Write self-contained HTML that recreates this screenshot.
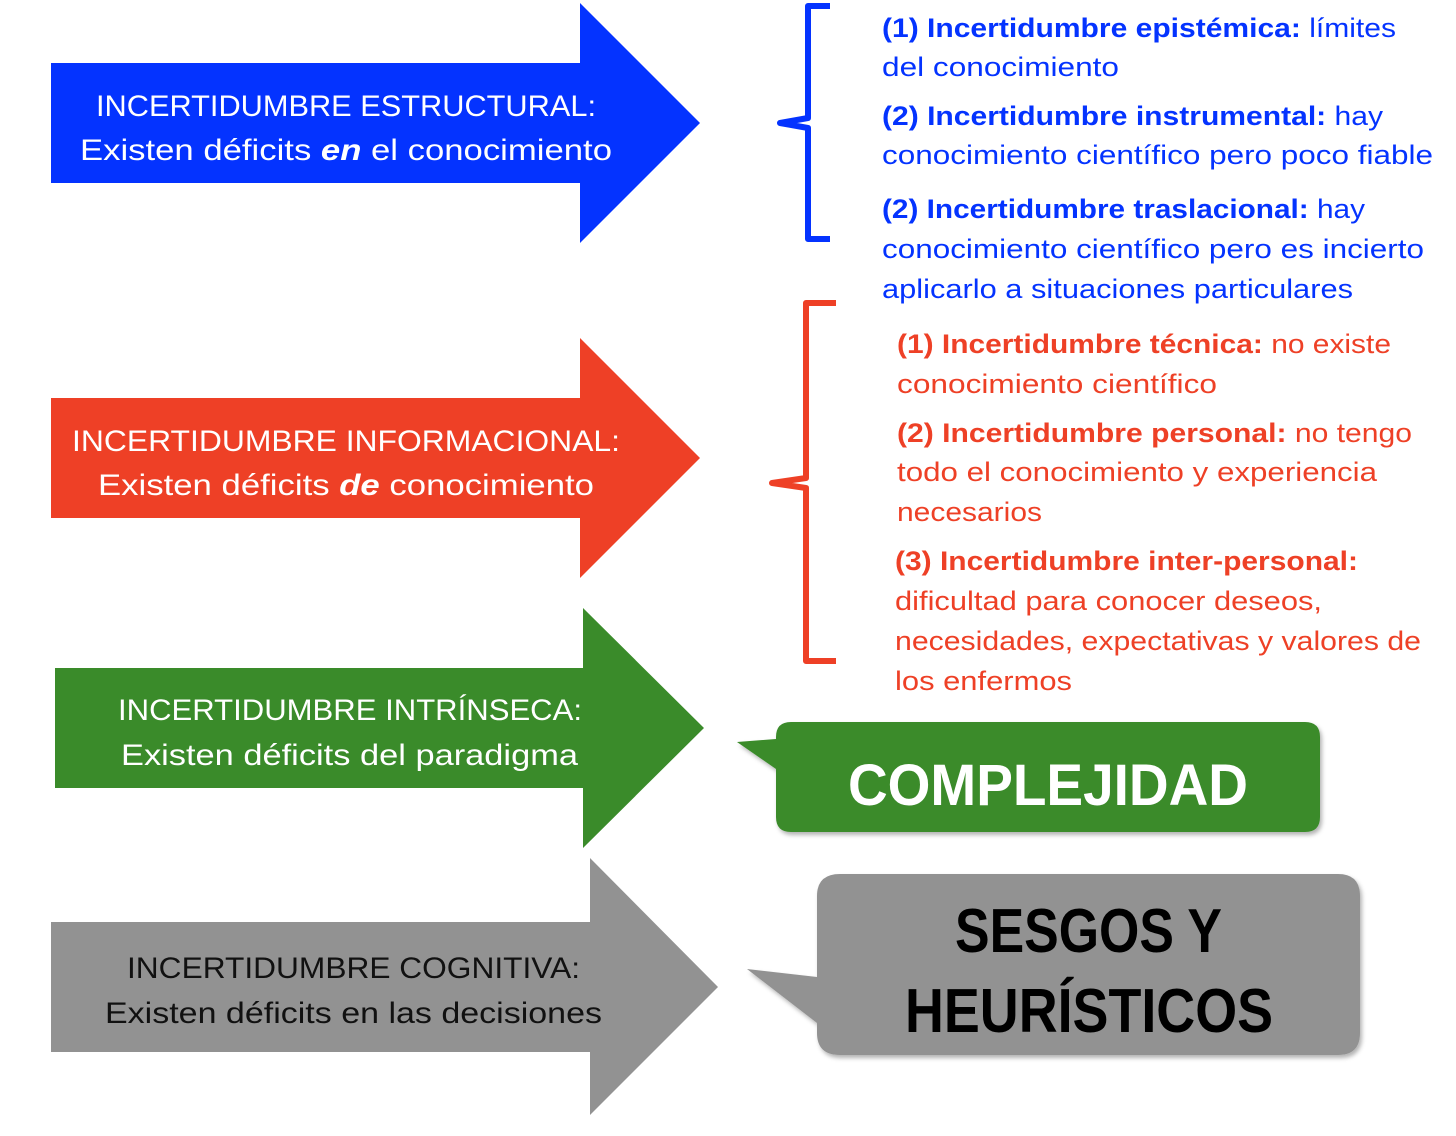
<!DOCTYPE html>
<html><head><meta charset="utf-8"><style>html,body{margin:0;padding:0;background:#fff}svg{display:block}</style></head>
<body>
<svg width="1456" height="1136" viewBox="0 0 1456 1136" xmlns="http://www.w3.org/2000/svg" font-family="'Liberation Sans', sans-serif">
<defs><filter id="sh" x="-5%" y="-5%" width="110%" height="115%"><feDropShadow dx="2" dy="3" stdDeviation="2" flood-color="#000" flood-opacity="0.3"/></filter></defs>
<!-- arrows -->
<polygon points="51,63 580,63 580,3 700,123 580,243 580,183 51,183" fill="#0433ff"/>
<polygon points="51,398 580,398 580,338 700,458 580,578 580,518 51,518" fill="#ee4026"/>
<polygon points="55,668 583,668 583,608 704,728 583,848 583,788 55,788" fill="#3a8b2a"/>
<polygon points="51,922 590,922 590,858 718,987 590,1115 590,1052 51,1052" fill="#929292"/>
<g font-size="30" fill="#fff">
<text x="96" y="116" textLength="500" lengthAdjust="spacingAndGlyphs">INCERTIDUMBRE ESTRUCTURAL:</text>
<text x="80" y="160" textLength="532" lengthAdjust="spacingAndGlyphs">Existen déficits <tspan font-weight="bold" font-style="italic">en</tspan> el conocimiento</text>
<text x="72" y="451" textLength="548" lengthAdjust="spacingAndGlyphs">INCERTIDUMBRE INFORMACIONAL:</text>
<text x="98" y="495" textLength="496" lengthAdjust="spacingAndGlyphs">Existen déficits <tspan font-weight="bold" font-style="italic">de</tspan> conocimiento</text>
<text x="118" y="720" textLength="464" lengthAdjust="spacingAndGlyphs">INCERTIDUMBRE INTRÍNSECA:</text>
<text x="121" y="765" textLength="457" lengthAdjust="spacingAndGlyphs">Existen déficits del paradigma</text>
</g>
<g font-size="30" fill="#111">
<text x="127" y="978" textLength="453" lengthAdjust="spacingAndGlyphs">INCERTIDUMBRE COGNITIVA:</text>
<text x="105" y="1023" textLength="497" lengthAdjust="spacingAndGlyphs">Existen déficits en las decisiones</text>
</g>
<!-- braces -->
<path d="M830,6 L808,6 L808,118 L780,123 L808,128 L808,239 L830,239" fill="none" stroke="#0433ff" stroke-width="6" stroke-linejoin="round"/>
<path d="M836,303 L806,303 L806,478 L772,483 L806,488 L806,661 L836,661" fill="none" stroke="#ee4026" stroke-width="6" stroke-linejoin="round"/>
<!-- blue text -->
<g font-size="27" fill="#0433ff">
<text x="882" y="37" textLength="514" lengthAdjust="spacingAndGlyphs"><tspan font-weight="bold">(1) Incertidumbre epistémica:</tspan> límites</text>
<text x="882" y="76" textLength="237" lengthAdjust="spacingAndGlyphs">del conocimiento</text>
<text x="882" y="125" textLength="501" lengthAdjust="spacingAndGlyphs"><tspan font-weight="bold">(2) Incertidumbre instrumental:</tspan> hay</text>
<text x="882" y="164" textLength="551" lengthAdjust="spacingAndGlyphs">conocimiento científico pero poco fiable</text>
<text x="882" y="218" textLength="483" lengthAdjust="spacingAndGlyphs"><tspan font-weight="bold">(2) Incertidumbre traslacional:</tspan> hay</text>
<text x="882" y="258" textLength="542" lengthAdjust="spacingAndGlyphs">conocimiento científico pero es incierto</text>
<text x="882" y="298" textLength="471" lengthAdjust="spacingAndGlyphs">aplicarlo a situaciones particulares</text>
</g>
<g font-size="27" fill="#ee4026">
<text x="897" y="353" textLength="494" lengthAdjust="spacingAndGlyphs"><tspan font-weight="bold">(1) Incertidumbre técnica:</tspan> no existe</text>
<text x="897" y="393" textLength="320" lengthAdjust="spacingAndGlyphs">conocimiento científico</text>
<text x="897" y="442" textLength="515" lengthAdjust="spacingAndGlyphs"><tspan font-weight="bold">(2) Incertidumbre personal:</tspan> no tengo</text>
<text x="897" y="481" textLength="480" lengthAdjust="spacingAndGlyphs">todo el conocimiento y experiencia</text>
<text x="897" y="521" textLength="145" lengthAdjust="spacingAndGlyphs">necesarios</text>
<text x="895" y="570" textLength="463" lengthAdjust="spacingAndGlyphs" font-weight="bold">(3) Incertidumbre inter-personal:</text>
<text x="895" y="610" textLength="427" lengthAdjust="spacingAndGlyphs">dificultad para conocer deseos,</text>
<text x="895" y="650" textLength="526" lengthAdjust="spacingAndGlyphs">necesidades, expectativas y valores de</text>
<text x="895" y="690" textLength="177" lengthAdjust="spacingAndGlyphs">los enfermos</text>
</g>
<!-- bubbles -->
<path d="M791,722 L1305,722 Q1320,722 1320,737 L1320,817 Q1320,832 1305,832 L791,832 Q776,832 776,817 L776,769 L737,742 L776,739 L776,737 Q776,722 791,722 Z" fill="#3a8b2a" filter="url(#sh)"/>
<text x="848" y="805" font-size="58" font-weight="bold" fill="#fff" textLength="400" lengthAdjust="spacingAndGlyphs">COMPLEJIDAD</text>
<path d="M840,874 L1338,874 Q1360,874 1360,896 L1360,1033 Q1360,1055 1338,1055 L840,1055 Q817,1055 817,1033 L817,1023 L747,969 L817,977 L817,896 Q817,874 840,874 Z" fill="#929292" filter="url(#sh)"/>
<g font-size="62" font-weight="bold" fill="#000">
<text x="955" y="952" textLength="267" lengthAdjust="spacingAndGlyphs">SESGOS Y</text>
<text x="905" y="1032" textLength="368" lengthAdjust="spacingAndGlyphs">HEURÍSTICOS</text>
</g>
</svg>
</body></html>
